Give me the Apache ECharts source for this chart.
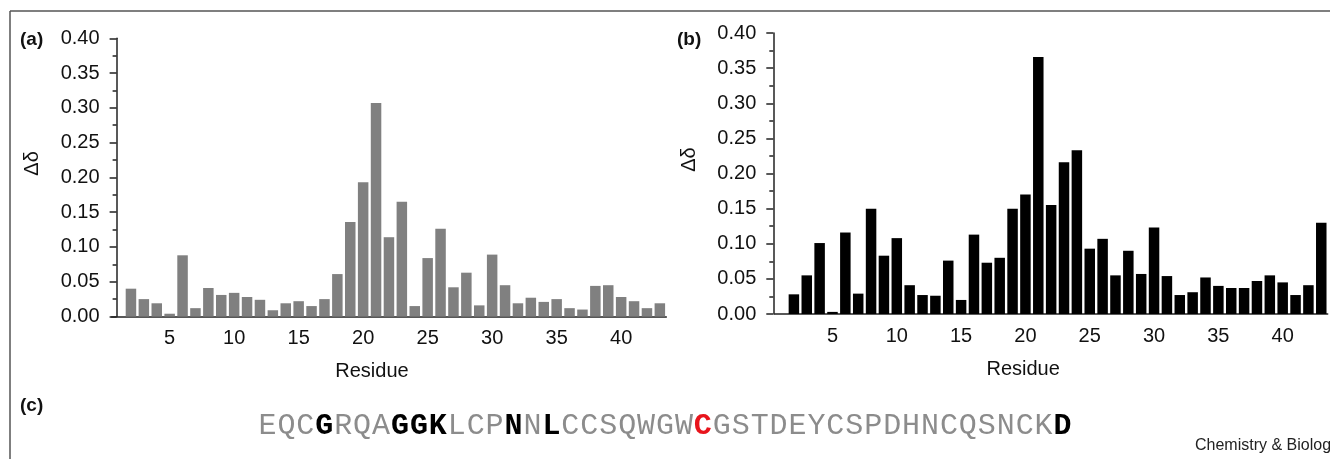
<!DOCTYPE html>
<html>
<head>
<meta charset="utf-8">
<style>
  html, body { margin: 0; padding: 0; background: #fff; }
  #chart { width: 1330px; height: 459px; }
</style>
<script src="https://cdn.jsdelivr.net/npm/echarts@6/dist/echarts.min.js"></script>
</head>
<body>
<div id="chart"></div>
<script>
// residue numbers 1..43 (residue 1 has no value)
const residues = Array.from({ length: 43 }, (_, i) => String(i + 1));

// panel (a) chemical shift changes
const shiftA = [null,
  0.040, 0.025, 0.019, 0.004, 0.088, 0.012, 0.041, 0.031, 0.034, 0.028,
  0.024, 0.009, 0.019, 0.022, 0.015, 0.025, 0.061, 0.136, 0.193, 0.307,
  0.114, 0.165, 0.015, 0.084, 0.126, 0.042, 0.063, 0.016, 0.089, 0.045,
  0.019, 0.027, 0.021, 0.025, 0.012, 0.010, 0.044, 0.045, 0.028, 0.022,
  0.012, 0.019];

// panel (b) chemical shift changes
const shiftB = [null,
  0.028, 0.055, 0.101, 0.003, 0.116, 0.029, 0.150, 0.083, 0.108, 0.041,
  0.027, 0.026, 0.076, 0.020, 0.113, 0.073, 0.080, 0.150, 0.170, 0.366,
  0.155, 0.216, 0.233, 0.093, 0.107, 0.055, 0.090, 0.057, 0.123, 0.054,
  0.027, 0.031, 0.052, 0.040, 0.037, 0.037, 0.047, 0.055, 0.045, 0.027,
  0.041, 0.130];

// panel (c) sequence, 1-based positions that are highlighted
const sequence = 'EQCGRQAGGKLCPNNLCCSQWGWCGSTDEYCSPDHNCQSNCKD';
const boldPositions = [4, 8, 9, 10, 14, 16, 43];
const redPositions = [24];

const axisColor = '#222';
const font = 'Liberation Sans, Arial, sans-serif';

function xAxes(gridIndex, namePad) {
  const base = {
    type: 'category',
    gridIndex: gridIndex,
    data: residues,
    position: 'bottom',
    boundaryGap: true,
    axisLine: { lineStyle: { color: axisColor, width: 1.5 } },
    splitLine: { show: false }
  };
  return [
    Object.assign({}, base, {
      name: 'Residue',
      nameLocation: 'middle',
      nameGap: 45,
      nameTextStyle: { fontFamily: font, fontSize: 20, color: '#111', padding: namePad },
      axisTick: {
        length: 4,
        interval: (idx) => idx >= 2 && (idx - 2) % 5 === 0,
        lineStyle: { color: axisColor, width: 1.5 }
      },
      axisLabel: {
        interval: (idx) => (idx + 1) % 5 === 0,
        margin: 12,
        fontFamily: font, fontSize: 20, color: '#111'
      }
    }),
    // inside half of the crossing ticks
    Object.assign({}, base, {
      axisLine: { show: false },
      axisTick: {
        inside: true, length: 3,
        interval: (idx) => idx >= 2 && (idx - 2) % 5 === 0,
        lineStyle: { color: axisColor, width: 1.5 }
      },
      axisLabel: { show: false }
    })
  ];
}

function yAxis(gridIndex, offset, namePad) {
  return {
    type: 'value',
    gridIndex: gridIndex,
    min: 0, max: 0.4, interval: 0.05,
    offset: offset,
    name: 'Δδ',
    nameLocation: 'middle',
    nameGap: 74,
    nameTextStyle: { fontFamily: font, fontSize: 20, color: '#111', padding: namePad },
    axisLine: { show: true, lineStyle: { color: axisColor, width: 1.5 } },
    axisTick: { show: true, length: 7, lineStyle: { color: axisColor, width: 1.5 } },
    minorTick: { show: true, splitNumber: 2, length: 4, lineStyle: { color: axisColor, width: 1.5 } },
    splitLine: { show: false },
    axisLabel: {
      margin: 17,
      fontFamily: font, fontSize: 20, color: '#111',
      formatter: (v) => v.toFixed(2)
    }
  };
}

// sequence letters laid out in fixed slots
const seqLeft = 258, seqStep = 18.93, seqY = 426;
const seqGraphics = sequence.split('').map((ch, i) => {
  const pos = i + 1;
  const bold = boldPositions.includes(pos) || redPositions.includes(pos);
  return {
    type: 'text',
    x: seqLeft + seqStep * (i + 0.5),
    y: seqY,
    style: {
      text: ch,
      fontFamily: 'Liberation Mono, Courier New, monospace',
      fontSize: 30,
      fontWeight: bold ? 'bold' : 'normal',
      fill: redPositions.includes(pos) ? '#e8141c' : (bold ? '#000' : '#8c8c8c'),
      align: 'center',
      verticalAlign: 'middle'
    }
  };
});

const panelLabel = (txt, x, y) => ({
  type: 'text', x: x, y: y,
  style: { text: txt, fontFamily: font, fontSize: 19, fontWeight: 'bold', fill: '#111', verticalAlign: 'middle' }
});

const chart = echarts.init(document.getElementById('chart'));

chart.setOption({
  animation: false,
  backgroundColor: '#fff',
  grid: [
    { left: 111.6, width: 554.7, top: 38.3, height: 278.2 },
    { left: 774.6, width: 553.1, top: 33, height: 281 }
  ],
  xAxis: [...xAxes(0, [0, 34, 0, 0]), ...xAxes(1, [0, 56, 0, 0])],
  yAxis: [yAxis(0, -5, [0, 0, 0, 28]), yAxis(1, 1.3, [0, 0, 0, 28])],
  series: [
    {
      type: 'bar', xAxisIndex: 0, yAxisIndex: 0,
      data: shiftA, barWidth: 10.5,
      itemStyle: { color: '#808080' }
    },
    {
      type: 'bar', xAxisIndex: 2, yAxisIndex: 1,
      data: shiftB, barWidth: 10.5,
      itemStyle: { color: '#000' }
    }
  ],
  graphic: [
    { type: 'line', shape: { x1: 10, y1: 11, x2: 1330, y2: 11 }, style: { stroke: '#555', lineWidth: 1.5 } },
    { type: 'line', shape: { x1: 10, y1: 11, x2: 10, y2: 459 }, style: { stroke: '#555', lineWidth: 1.5 } },
    panelLabel('(a)', 20, 40),
    panelLabel('(b)', 677, 40),
    panelLabel('(c)', 20, 406),
    ...seqGraphics,
    {
      type: 'text', x: 1195, y: 446,
      style: { text: 'Chemistry & Biology', fontFamily: font, fontSize: 16, fill: '#222', verticalAlign: 'middle' }
    }
  ]
});
</script>
</body>
</html>
